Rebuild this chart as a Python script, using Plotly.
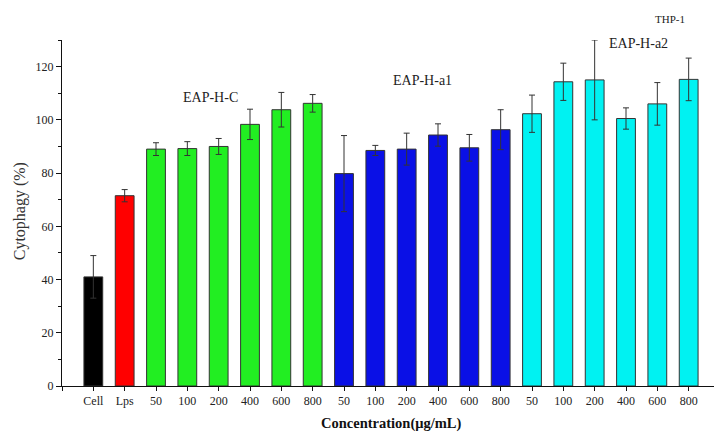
import plotly.graph_objects as go

categories = ["Cell", "Lps", "50", "100", "200", "400", "600", "800",
              "50", "100", "200", "400", "600", "800",
              "50", "100", "200", "400", "600", "800"]
values = [41, 71.5, 89, 89.2, 90, 98.3, 103.8, 106.2,
          79.8, 88.5, 89, 94.3, 89.5, 96.3,
          102.3, 114.3, 115, 100.5, 106, 115.2]
errors = [8, 2.3, 2.4, 2.6, 3, 5.7, 6.5, 3.3,
          14.3, 1.9, 6, 4.2, 5, 7.5,
          7, 7, 15, 4, 8, 8]
colors = ["#000000", "#FF0000"] + ["#22EE22"] * 6 + ["#0A10E6"] * 6 + ["#00F2F2"] * 6
group_labels = ["EAP-H-C", "EAP-H-a1", "EAP-H-a2"]
group_label_x = [3.75, 10.5, 17.4]
group_label_y = [108.5, 114.8, 128.5]
cell_line_label = "THP-1"

xs = list(range(len(categories)))
tick_positions = [-1] + xs + [20]
tick_texts = [""] + categories + [""]

fig = go.Figure()
fig.add_trace(go.Bar(
    x=xs, y=values, width=0.6,
    marker=dict(color=colors, line=dict(color="#333333", width=1)),
    error_y=dict(type="data", array=errors, visible=True,
                 color="#333333", thickness=1, width=3),
    showlegend=False,
))

for t, x, y in zip(group_labels, group_label_x, group_label_y):
    fig.add_annotation(x=x, y=y, text=t, showarrow=False,
                       font=dict(family="Liberation Serif", size=14, color="#222"))

fig.add_annotation(x=0.924, y=1.061, xref="paper", yref="paper", text=cell_line_label,
                   showarrow=False, xanchor="center", yanchor="middle",
                   font=dict(family="Liberation Serif", size=11, color="#222"))

fig.add_annotation(x=0.5, y=0, xref="paper", yref="paper", yanchor="top",
                   yshift=-27, text="<b>Concentration(μg/mL)</b>", showarrow=False,
                   font=dict(family="Liberation Serif", size=14.5, color="#111"))
fig.add_annotation(x=0, y=0.505, xref="paper", yref="paper", xshift=-42,
                   xanchor="center", yanchor="middle",
                   text="Cytophagy (%)", textangle=-90, showarrow=False,
                   font=dict(family="Liberation Serif", size=16, color="#333"))

fig.update_layout(
    width=714, height=425,
    margin=dict(l=54, r=2, t=32, b=47),
    plot_bgcolor="white", paper_bgcolor="white",
    font=dict(family="Liberation Serif", size=12, color="#222"),
    bargap=0.4,
)
fig.update_xaxes(range=[-1, 20], tickvals=tick_positions, ticktext=tick_texts,
                 showline=True, linecolor="#111", linewidth=1,
                 ticks="outside", ticklen=4, tickcolor="#111",
                 showgrid=False, zeroline=False, tickfont=dict(size=12))
fig.update_yaxes(range=[0, 130], tickvals=[0, 20, 40, 60, 80, 100, 120],
                 showline=True, linecolor="#111", linewidth=1,
                 ticks="outside", ticklen=5, tickcolor="#111",
                 minor=dict(ticks="outside", ticklen=3, dtick=10, tickcolor="#111"),
                 showgrid=False, zeroline=False, tickfont=dict(size=12))

fig.write_html("out.html")
